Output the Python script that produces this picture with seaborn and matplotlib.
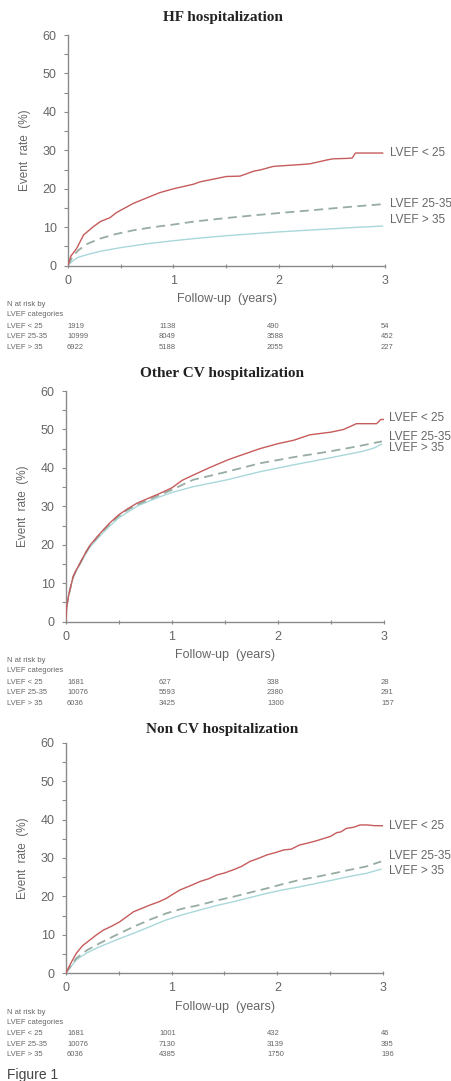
import matplotlib
matplotlib.use("Agg")
import matplotlib.pyplot as plt
from matplotlib.ticker import MultipleLocator
import pandas as pd
import seaborn as sns

# ---- data ----
panel_titles = ["HF hospitalization", "Other CV hospitalization", "Non CV hospitalization"]
group_names = ["LVEF < 25", "LVEF 25-35", "LVEF > 35"]
risk_times = ["0", "1", "2", "3"]

# HF hospitalization
hf_lt25_t = [0, 0.03, 0.085, 0.15, 0.24, 0.31, 0.40, 0.46, 0.56, 0.62, 0.78, 0.87, 1.0, 1.19,
             1.25, 1.5, 1.63, 1.76, 1.82, 1.94, 1.98, 2.2, 2.29, 2.42, 2.45, 2.51, 2.64, 2.69, 2.72, 2.98]
hf_lt25_y = [0, 2.5, 4.5, 8.0, 10.1, 11.5, 12.5, 13.8, 15.3, 16.2, 18.0, 19.0, 20.0, 21.2,
             21.8, 23.2, 23.3, 24.6, 24.9, 25.8, 25.9, 26.3, 26.5, 27.3, 27.5, 27.8, 27.9, 28.0, 29.3, 29.3]
hf_mid_t = [0, 0.05, 0.1, 0.18, 0.3, 0.45, 0.62, 0.8, 1.0, 1.2, 1.5, 1.8, 2.0, 2.3, 2.5, 2.75, 2.98]
hf_mid_y = [0, 2.5, 4.0, 5.6, 7.0, 8.2, 9.2, 10.0, 10.7, 11.5, 12.4, 13.2, 13.7, 14.4, 14.9, 15.5, 16.0]
hf_gt35_t = [0, 0.05, 0.1, 0.2, 0.3, 0.5, 0.75, 1.0, 1.25, 1.5, 1.75, 2.0, 2.25, 2.5, 2.75, 2.98]
hf_gt35_y = [0, 1.3, 2.2, 3.0, 3.7, 4.7, 5.7, 6.5, 7.2, 7.8, 8.3, 8.8, 9.2, 9.6, 10.0, 10.3]

# Other CV hospitalization
ocv_lt25_t = [0, 0.01, 0.025, 0.05, 0.07, 0.1, 0.135, 0.18, 0.23, 0.3, 0.355, 0.42, 0.5, 0.58,
              0.67, 0.78, 0.89, 1.0, 1.1, 1.2, 1.35, 1.52, 1.6, 1.83, 2.0, 2.15, 2.3, 2.5, 2.62,
              2.74, 2.93, 2.97, 3.0]
ocv_lt25_y = [0, 4.0, 6.5, 9.5, 11.7, 13.5, 15.2, 17.6, 19.9, 22.2, 23.9, 25.8, 27.8, 29.3,
              30.8, 32.1, 33.4, 34.8, 36.8, 38.1, 40.0, 42.0, 42.8, 45.0, 46.3, 47.2, 48.6, 49.3, 50.0,
              51.5, 51.5, 52.6, 52.6]
ocv_mid_t = [0, 0.01, 0.025, 0.05, 0.07, 0.1, 0.135, 0.18, 0.23, 0.3, 0.355, 0.42, 0.5, 0.58,
             0.67, 0.78, 0.89, 1.0, 1.2, 1.52, 1.83, 2.15, 2.47, 2.75, 2.98]
ocv_mid_y = [0, 4.0, 6.5, 9.5, 11.7, 13.5, 15.2, 17.6, 19.8, 22.0, 23.7, 25.6, 27.5, 29.0,
             30.4, 31.7, 33.0, 34.3, 36.9, 39.0, 41.2, 42.8, 44.2, 45.6, 46.9]
ocv_gt35_t = [0, 0.01, 0.025, 0.05, 0.07, 0.1, 0.135, 0.18, 0.23, 0.3, 0.355, 0.42, 0.5, 0.58,
              0.67, 0.78, 0.89, 1.0, 1.2, 1.52, 1.83, 2.15, 2.47, 2.78, 2.9, 2.98]
ocv_gt35_y = [0, 4.0, 6.4, 9.3, 11.4, 13.2, 14.9, 17.2, 19.4, 21.6, 23.2, 25.0, 27.0, 28.4,
              30.0, 31.3, 32.5, 33.6, 35.1, 36.9, 39.0, 40.8, 42.5, 44.2, 45.1, 46.2]

# Non CV hospitalization
ncv_lt25_t = [0, 0.05, 0.1, 0.16, 0.23, 0.3, 0.36, 0.43, 0.51, 0.58, 0.64, 0.72, 0.8, 0.88,
              0.95, 1.02, 1.08, 1.17, 1.27, 1.35, 1.43, 1.5, 1.58, 1.66, 1.74, 1.82, 1.9, 1.98,
              2.06, 2.13, 2.21, 2.29, 2.37, 2.44, 2.5, 2.56, 2.6, 2.65, 2.72, 2.78, 2.85, 2.92, 3.0]
ncv_lt25_y = [0, 2.7, 5.2, 7.2, 8.7, 10.2, 11.3, 12.2, 13.4, 14.8, 16.0, 16.9, 17.8, 18.6,
              19.5, 20.7, 21.7, 22.7, 23.9, 24.6, 25.6, 26.1, 26.9, 27.8, 29.1, 29.9, 30.8, 31.4,
              32.1, 32.3, 33.4, 33.9, 34.5, 35.1, 35.6, 36.6, 36.8, 37.7, 38.0, 38.6, 38.6, 38.4, 38.4]
ncv_mid_t = [0, 0.1, 0.2, 0.32, 0.48, 0.64, 0.8, 0.95, 1.1, 1.27, 1.42, 1.58, 1.74, 1.9, 2.05,
             2.21, 2.37, 2.53, 2.68, 2.84, 2.98]
ncv_mid_y = [0, 3.9, 6.0, 7.8, 10.0, 12.1, 14.0, 15.6, 16.8, 17.8, 18.9, 19.9, 21.0, 22.1, 23.2,
             24.3, 25.1, 26.0, 26.9, 27.8, 29.1]
ncv_gt35_t = [0, 0.1, 0.2, 0.32, 0.48, 0.64, 0.8, 0.95, 1.1, 1.27, 1.42, 1.58, 1.74, 1.9, 2.05,
              2.21, 2.37, 2.53, 2.68, 2.84, 2.98]
ncv_gt35_y = [0, 3.5, 5.3, 6.9, 8.7, 10.4, 12.2, 13.9, 15.2, 16.5, 17.6, 18.6, 19.7, 20.8, 21.7,
              22.5, 23.4, 24.3, 25.2, 26.0, 27.1]

# numbers at risk (rows: LVEF<25, 25-35, >35; cols: year 0..3)
hf_risk = [["1919", "1138", "490", "54"], ["10999", "8049", "3588", "452"], ["6922", "5188", "2055", "227"]]
ocv_risk = [["1681", "627", "338", "28"], ["10076", "5593", "2380", "291"], ["6036", "3425", "1300", "157"]]
ncv_risk = [["1681", "1001", "432", "46"], ["10076", "7130", "3139", "395"], ["6036", "4385", "1750", "196"]]

# where the right-hand curve labels sit (event rate %)
hf_label_y = [29.4, 16.0, 11.9]
ocv_label_y = [52.9, 48.1, 45.1]
ncv_label_y = [38.4, 30.4, 26.7]

panels = [
    (panel_titles[0], [(hf_lt25_t, hf_lt25_y), (hf_mid_t, hf_mid_y), (hf_gt35_t, hf_gt35_y)], hf_risk, hf_label_y),
    (panel_titles[1], [(ocv_lt25_t, ocv_lt25_y), (ocv_mid_t, ocv_mid_y), (ocv_gt35_t, ocv_gt35_y)], ocv_risk, ocv_label_y),
    (panel_titles[2], [(ncv_lt25_t, ncv_lt25_y), (ncv_mid_t, ncv_mid_y), (ncv_gt35_t, ncv_gt35_y)], ncv_risk, ncv_label_y),
]

# ---- styling ----
sns.set_theme(style="white")
plt.rcParams["font.family"] = ["Liberation Sans", "DejaVu Sans"]

line_colors = ["#C65B5B", "#97ACA2", "#A9D8DA"]
line_styles = ["-", (0, (5, 3)), "-"]
line_widths = [1.0, 1.3, 1.0]
line_z = [4, 3, 2]
gray = "#666666"

W, H = 452, 1081
fig = plt.figure(figsize=(W / 100, H / 100), dpi=100)

# axes boxes in pixels: left, right, top, bottom
axes_px = [(67.7, 385.0, 35.0, 265.7), (65.7, 384.0, 391.0, 621.7), (65.7, 383.3, 742.7, 973.3)]
title_y_px = [18, 373, 730]
row_offsets_px = [39, 49, 60.5, 71, 81.5]
col_x_px = [67, 159, 267, 381]

for (title, series, risk, label_y), (l, r, t, b), ty in zip(panels, axes_px, title_y_px):
    ax = fig.add_axes([l / W, 1 - b / H, (r - l) / W, (b - t) / H])
    for (xs, ys), c, ls, lw, z in zip(series, line_colors, line_styles, line_widths, line_z):
        df = pd.DataFrame({"t": xs, "rate": ys})
        sns.lineplot(data=df, x="t", y="rate", ax=ax, color=c, linestyle=ls,
                     linewidth=lw, errorbar=None, sort=False, zorder=z)

    ax.set_xlim(0, 3)
    ax.set_ylim(0, 60)
    ax.xaxis.set_major_locator(MultipleLocator(1))
    ax.xaxis.set_minor_locator(MultipleLocator(0.5))
    ax.yaxis.set_major_locator(MultipleLocator(10))
    ax.yaxis.set_minor_locator(MultipleLocator(5))
    for s in ["top", "right"]:
        ax.spines[s].set_visible(False)
    for s in ["left", "bottom"]:
        ax.spines[s].set_color("#8a8a8a")
        ax.spines[s].set_linewidth(1.0)
    ax.tick_params(axis="x", which="both", direction="inout", length=3, width=0.8,
                   color="#8a8a8a", labelsize=9, labelcolor=gray, pad=5, bottom=True)
    ax.tick_params(axis="y", which="both", direction="out", length=3, width=0.8,
                   color="#8a8a8a", labelsize=9, labelcolor=gray, pad=5, left=True)
    ax.grid(False)

    ax.set_xlabel("Follow-up  (years)", fontsize=9, color=gray)
    ax.set_ylabel("Event  rate  (%)", fontsize=8.5, color=gray)
    ax.xaxis.set_label_coords(0.502, -0.12)
    ax.yaxis.set_label_coords(-0.115, 0.5)

    for name, yv in zip(group_names, label_y):
        ax.text(3.05, yv, name, fontsize=8.5, color=gray, ha="left", va="center", clip_on=False)

    fig.text(222.5 / W, 1 - ty / H, title, ha="center", va="center", fontsize=11,
             fontweight="bold", family=["Liberation Serif", "DejaVu Serif"], color="#222222")

    # number-at-risk table
    fig.text(7 / W, 1 - (b + row_offsets_px[0]) / H, "N at risk by", fontsize=5.5, color=gray, va="center")
    fig.text(7 / W, 1 - (b + row_offsets_px[1]) / H, "LVEF categories", fontsize=5.5, color=gray, va="center")
    for i, (name, row) in enumerate(zip(group_names, risk)):
        yy = 1 - (b + row_offsets_px[2 + i]) / H
        fig.text(7 / W, yy, name, fontsize=5.5, color=gray, va="center")
        for cx, val in zip(col_x_px, row):
            fig.text(cx / W, yy, val, fontsize=5.5, color=gray, va="center")

fig.text(7 / W, 1 - 1075 / H, "Figure 1", fontsize=10, color="#444444", va="center")

fig.savefig("out.png", dpi=100)
